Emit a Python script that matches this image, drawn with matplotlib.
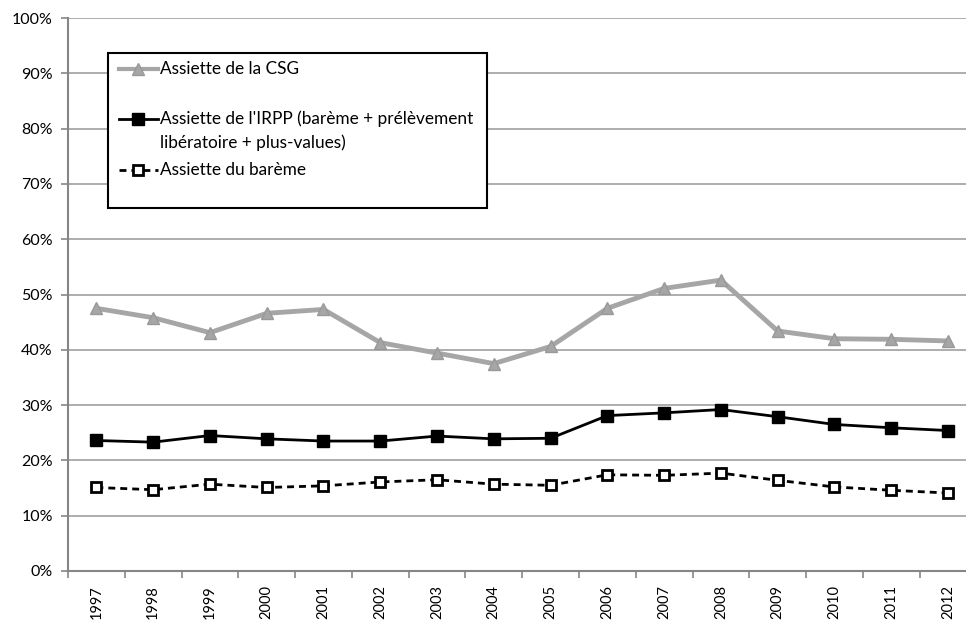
import matplotlib
matplotlib.use("Agg")
import matplotlib.pyplot as plt
from matplotlib.lines import Line2D
from matplotlib.patches import Rectangle
from matplotlib.ticker import FuncFormatter, FixedLocator

years = ["1997", "1998", "1999", "2000", "2001", "2002", "2003", "2004",
         "2005", "2006", "2007", "2008", "2009", "2010", "2011", "2012"]
csg = [47.5, 45.8, 43.1, 46.6, 47.3, 41.3, 39.4, 37.5,
       40.6, 47.5, 51.1, 52.6, 43.4, 42.0, 41.9, 41.6]
irpp = [23.6, 23.3, 24.5, 23.9, 23.5, 23.5, 24.4, 23.9,
        24.0, 28.1, 28.6, 29.2, 27.9, 26.5, 25.9, 25.4]
bareme = [15.1, 14.7, 15.7, 15.1, 15.4, 16.1, 16.5, 15.7,
          15.5, 17.4, 17.3, 17.7, 16.4, 15.2, 14.6, 14.1]
labels = ["Assiette de la CSG",
          "Assiette de l'IRPP (barème + prélèvement\nlibératoire + plus-values)",
          "Assiette du barème"]
yticks = [0, 10, 20, 30, 40, 50, 60, 70, 80, 90, 100]

FONT = ["Lato", "DejaVu Sans"]
plt.rcParams['font.family'] = FONT

W, H = 966, 621
fig = plt.figure(figsize=(W / 100, H / 100), dpi=100)
left, right, top, bottom = 68, 976.4, 18, 571
ax = fig.add_axes([left / W, 1 - bottom / H, (right - left) / W, (bottom - top) / H])

x = list(range(len(years)))
GRAY = "#A6A6A6"
ax.plot(x, csg, color=GRAY, lw=3.5, marker="^", ms=9, mfc=GRAY, mec="#999999", zorder=3)
ax.plot(x, irpp, color="black", lw=2, marker="s", ms=8, mfc="black", mec="black", zorder=4)
ax.plot(x, bareme, color="black", lw=2, ls=(0, (2.5, 1.8)), marker="s", ms=7,
        mfc="white", mec="black", mew=2, zorder=4)

ax.set_xlim(-0.5, len(years) - 0.5)
ax.set_ylim(0, 100)
ax.yaxis.set_major_locator(FixedLocator(yticks))
ax.yaxis.set_major_formatter(FuncFormatter(lambda v, p: f"{int(v)}%"))
ax.set_xticks(x)
ax.set_xticklabels(years, rotation=90)
ax.set_xticks([i - 0.5 for i in range(len(years) + 1)], minor=True)
ax.tick_params(axis="x", which="major", length=0, pad=10, labelsize=10.5, colors="black")
ax.tick_params(axis="x", which="minor", length=5, color="#868686", width=1.2)
ax.tick_params(axis="y", length=5, color="#868686", width=1.2, labelsize=11.5, pad=6)
ax.grid(axis="y", color="#A0A0A0", lw=1.2)
ax.set_axisbelow(True)
for s in ["top", "right"]:
    ax.spines[s].set_visible(False)
for s in ["left", "bottom"]:
    ax.spines[s].set_color("#868686")
    ax.spines[s].set_linewidth(1.5)

# legend drawn in pixel coordinates
ov = fig.add_axes([0, 0, 1, 1], facecolor="none")
ov.set_xlim(0, W)
ov.set_ylim(H, 0)
ov.axis("off")
ov.add_patch(Rectangle((108, 53), 379, 155, fill=True, facecolor="white",
                       edgecolor="black", lw=1.5, zorder=5))
fs = 12.4
hx0, hx1, hm, tx = 119, 158, 138, 160
ov.add_line(Line2D([hx0, hx1], [69, 69], color=GRAY, lw=3, zorder=6))
ov.add_line(Line2D([hm], [69], color=GRAY, marker="^", ms=8, mfc=GRAY, mec="#999999", zorder=6))
ov.text(tx, 69, labels[0], va="center", ha="left", fontsize=fs, zorder=6)
ov.add_line(Line2D([hx0, hx1], [119, 119], color="black", lw=2, zorder=6))
ov.add_line(Line2D([hm], [119], marker="s", ms=8, mfc="black", mec="black", zorder=6))
ov.text(tx, 119, labels[1].split("\n")[0], va="center", ha="left", fontsize=fs, zorder=6)
ov.text(tx, 143, labels[1].split("\n")[1], va="center", ha="left", fontsize=fs, zorder=6)
ov.add_line(Line2D([hx0, hx1], [170, 170], color="black", lw=2, ls=(0, (2.5, 1.8)), zorder=6))
ov.add_line(Line2D([hm], [170], marker="s", ms=7, mfc="white", mec="black", mew=2, zorder=6))
ov.text(tx, 170, labels[2], va="center", ha="left", fontsize=fs, zorder=6)

fig.savefig("out.png", dpi=100)
